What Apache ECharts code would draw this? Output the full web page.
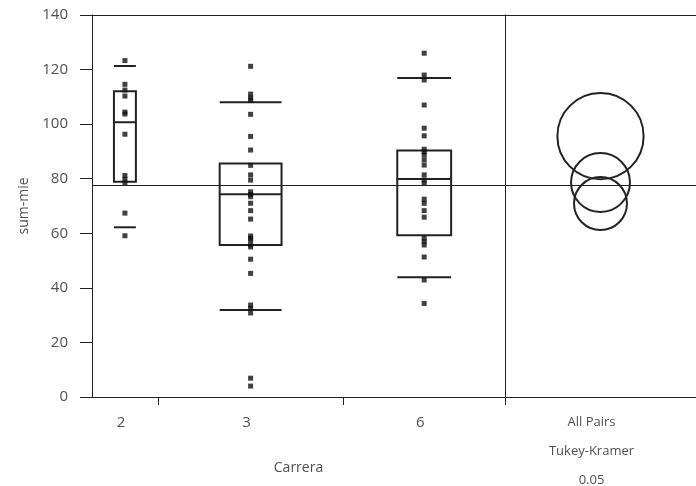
<!DOCTYPE html>
<html>
<head>
<meta charset="utf-8">
<script src="https://cdn.jsdelivr.net/npm/echarts@6/dist/echarts.min.js"></script>
<style>html,body{margin:0;padding:0;background:#fff;}#c{width:696px;height:486px;}</style>
</head>
<body>
<div id="c"></div>
<script>
// ---- data ----
const groups = ['2', '3', '6'];
const groupN = [11, 31, 27];
const pts2 = [123.3, 114.6, 112.5, 110.3, 104.4, 103.7, 96.3, 81.2, 79.8, 78.4, 67.4, 59.1];
const pts3 = [121.2, 111.0, 109.6, 108.8, 103.6, 95.5, 90.5, 84.9, 81.4, 79.5, 75.2, 74.2, 73.4, 71.0, 68.3, 65.2,
              59.0, 58.2, 57.5, 55.8, 55.0, 50.5, 45.3, 33.7, 32.5, 30.8, 6.9, 4.0];
const pts6 = [126.0, 118.0, 116.2, 107.0, 98.5, 95.7, 90.8, 89.8, 88.7, 86.9, 85.0, 81.4, 79.5, 78.3, 72.5, 71.0,
              68.3, 65.9, 58.2, 56.9, 55.7, 51.3, 42.9, 34.3];
const p10 = [62.2, 31.9, 43.9];
const q1 = [78.9, 55.7, 59.3];
const median = [100.7, 74.3, 79.9];
const q3 = [112.1, 85.6, 90.3];
const p90 = [121.3, 108.0, 116.9];
const groupMeans = [95.6, 70.9, 78.6];
const circleRadius = [15.8, 9.7, 10.8];
const grandMean = 77.7;
const yMin = 0, yMax = 140, yStep = 20;
const xTitle = 'Carrera';
const yTitle = 'sum-mie';
const compareTitle = 'All Pairs\nTukey-Kramer\n0.05';

// ---- derived ----
const bounds = [0];
groupN.forEach(n => bounds.push(bounds[bounds.length - 1] + n));
const totalN = bounds[bounds.length - 1];
const mids = groups.map((g, i) => (bounds[i] + bounds[i + 1]) / 2);
const allPts = [pts2, pts3, pts6];
const scatterData = [];
allPts.forEach((arr, i) => arr.forEach(v => scatterData.push([mids[i], v])));
const boxData = groups.map((g, i) => [bounds[i], bounds[i + 1], p10[i], q1[i], median[i], q3[i], p90[i]]);
const circleData = groups.map((g, i) => [0.5, groupMeans[i], circleRadius[i]]);

const INK = '#222';
const TXT = '#505050';
const FONT = 'Open Sans';

const chart = echarts.init(document.getElementById('c'), null, {renderer: 'canvas'});
chart.setOption({
  animation: false,
  backgroundColor: '#fff',
  textStyle: {fontFamily: FONT},
  grid: [
    {left: 92, right: 191, top: 15, bottom: 89, outerBoundsMode: 'none', containLabel: false},
    {left: 505, right: 0, top: 15, bottom: 89, outerBoundsMode: 'none', containLabel: false}
  ],
  xAxis: [
    {
      gridIndex: 0, type: 'value', min: 0, max: totalN, position: 'bottom',
      splitLine: {show: false},
      axisLine: {show: true, lineStyle: {color: INK, width: 1}},
      axisTick: {show: true, customValues: bounds.slice(1), length: 8, lineStyle: {color: INK}},
      axisLabel: {show: true, customValues: mids, margin: 18, color: TXT, fontSize: 15, fontFamily: FONT,
        padding: [0, 8, 0, 0],
        formatter: v => { const i = mids.findIndex(m => Math.abs(m - v) < 1e-6); return i >= 0 ? groups[i] : ''; }},
      name: xTitle, nameLocation: 'middle', nameGap: 64,
      nameTextStyle: {color: TXT, fontSize: 14, fontFamily: FONT}
    },
    {
      gridIndex: 0, type: 'value', min: 0, max: totalN, position: 'top',
      splitLine: {show: false}, axisTick: {show: false}, axisLabel: {show: false},
      axisLine: {show: true, lineStyle: {color: INK, width: 1}}
    },
    {
      gridIndex: 1, type: 'value', min: 0, max: 1, position: 'bottom',
      splitLine: {show: false}, axisTick: {show: false}, axisLabel: {show: false},
      axisLine: {show: true, lineStyle: {color: INK, width: 1}},
      name: compareTitle, nameLocation: 'middle', nameGap: 11,
      nameTextStyle: {color: TXT, fontSize: 13, fontFamily: FONT, lineHeight: 29, verticalAlign: 'top', padding: [0, 18, 0, 0]}
    },
    {
      gridIndex: 1, type: 'value', min: 0, max: 1, position: 'top',
      splitLine: {show: false}, axisTick: {show: false}, axisLabel: {show: false},
      axisLine: {show: true, lineStyle: {color: INK, width: 1}}
    }
  ],
  yAxis: [
    {
      gridIndex: 0, type: 'value', min: yMin, max: yMax, interval: yStep,
      splitLine: {show: false},
      axisLine: {show: true, lineStyle: {color: INK, width: 1}},
      axisTick: {show: true, length: 12, lineStyle: {color: INK}},
      axisLabel: {margin: 24, color: TXT, fontSize: 15, fontFamily: FONT},
      name: yTitle, nameLocation: 'middle', nameGap: 58,
      nameTextStyle: {color: TXT, fontSize: 14, fontFamily: FONT}
    },
    {
      gridIndex: 1, type: 'value', min: yMin, max: yMax, interval: yStep,
      splitLine: {show: false},
      axisLine: {show: true, lineStyle: {color: INK, width: 1}},
      axisTick: {show: false}, axisLabel: {show: false}
    }
  ],
  series: [
    {
      type: 'custom', xAxisIndex: 0, yAxisIndex: 0, data: boxData, z: 3,
      renderItem: function (params, api) {
        const x0 = api.value(0), x1 = api.value(1);
        const w = x1 - x0;
        const a = x0 + w / 3, b = x1 - w / 3;
        const L = api.coord([a, 0])[0], R = api.coord([b, 0])[0];
        const y = k => api.coord([a, api.value(k)])[1];
        const st = {stroke: INK, fill: null, lineWidth: 2};
        const yq1 = y(3), yq3 = y(5);
        return {
          type: 'group',
          children: [
            {type: 'rect', shape: {x: L, y: yq3, width: R - L, height: yq1 - yq3}, style: st},
            {type: 'line', shape: {x1: L, y1: y(4), x2: R, y2: y(4)}, style: st},
            {type: 'line', shape: {x1: L, y1: y(2), x2: R, y2: y(2)}, style: st},
            {type: 'line', shape: {x1: L, y1: y(6), x2: R, y2: y(6)}, style: st}
          ]
        };
      }
    },
    {
      type: 'scatter', xAxisIndex: 0, yAxisIndex: 0, data: scatterData, z: 4,
      symbol: 'rect', symbolSize: 5, itemStyle: {color: '#111'}, silent: true,
      markLine: {
        silent: true, symbol: 'none', label: {show: false},
        lineStyle: {color: INK, width: 1, type: 'solid'},
        data: [{yAxis: grandMean}]
      }
    },
    {
      type: 'custom', xAxisIndex: 2, yAxisIndex: 1, data: circleData, z: 3,
      renderItem: function (params, api) {
        const c = api.coord([api.value(0), api.value(1)]);
        const r = api.size([0, api.value(2)])[1];
        return {type: 'circle', shape: {cx: c[0], cy: c[1], r: r}, style: {stroke: INK, fill: null, lineWidth: 2}};
      },
      markLine: {
        silent: true, symbol: 'none', label: {show: false},
        lineStyle: {color: INK, width: 1, type: 'solid'},
        data: [{yAxis: grandMean}]
      }
    }
  ]
});
</script>
</body>
</html>
